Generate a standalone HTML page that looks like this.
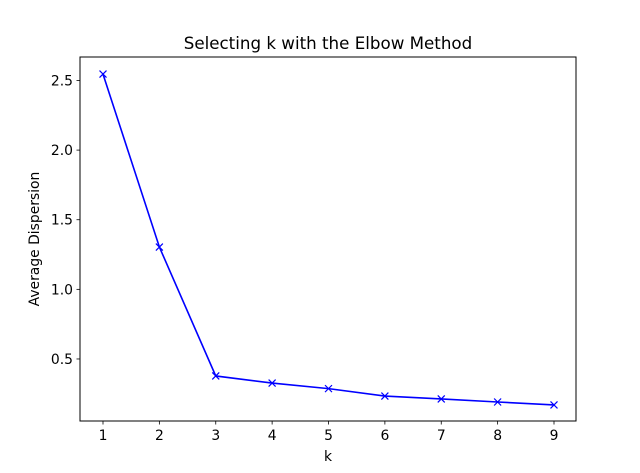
<!DOCTYPE html>
<html><head><meta charset="utf-8"><style>
html,body{margin:0;padding:0;background:#fff;}
svg{display:block;font-family:"DejaVu Sans","Liberation Sans",sans-serif;}
</style></head><body>
<svg id="chart" width="640" height="473" viewBox="0 0 640 473">
<rect x="0" y="0" width="640" height="473" fill="#fff"/>
<text x="328" y="49" text-anchor="middle" font-size="16.7">Selecting k with the Elbow Method</text>
<g id="xticks"></g>
<g id="yticks"></g>
<g id="series"></g>
<rect x="80" y="57" width="496" height="364" fill="none" stroke="#000" stroke-width="1"/>
<text x="328" y="461" text-anchor="middle" font-size="13.9">k</text>
<text transform="translate(39,239) rotate(-90)" text-anchor="middle" font-size="13.9">Average Dispersion</text>
</svg>
<script>
const kValues = [1,2,3,4,5,6,7,8,9];
const dispersion = [2.546,1.304,0.378,0.327,0.287,0.234,0.213,0.191,0.170];
const xTickLabels = ["1","2","3","4","5","6","7","8","9"];
const yTickValues = [0.5,1.0,1.5,2.0,2.5];
const NS="http://www.w3.org/2000/svg";
const xs = k => 103 + (k-1)*56.375;
const ys = v => 428.6 - v*139.25;
function mk(tag, attrs, parent){const e=document.createElementNS(NS,tag);for(const a in attrs)e.setAttribute(a,attrs[a]);parent.appendChild(e);return e;}
const gx=document.getElementById('xticks'), gy=document.getElementById('yticks'), gs=document.getElementById('series');
kValues.forEach((k,i)=>{
  const x=xs(k);
  const t=mk('line',{x1:x,x2:x,y1:421,y2:424.5,stroke:'#000','stroke-width':0.8},gx);
  
  
  const l=mk('text',{x:x,y:440,'text-anchor':'middle','font-size':13.9},gx);
  l.textContent=xTickLabels[i];
  
  
});
yTickValues.forEach(v=>{
  const y=ys(v);
  const t=mk('line',{x1:76.5,x2:80,y1:y,y2:y,stroke:'#000','stroke-width':0.8},gy);
  
  
  const l=mk('text',{x:73,y:y+5,'text-anchor':'end','font-size':13.9},gy);
  l.textContent=v.toFixed(1);
  
  
});
const pts=kValues.map((k,i)=>xs(k)+','+ys(dispersion[i])).join(' ');
const pl=mk('polyline',{points:pts,fill:'none',stroke:'#0000ff','stroke-width':1.6},gs);


kValues.forEach((k,i)=>{
  const x=xs(k), y=ys(dispersion[i]), s=3.5;
  const m=mk('path',{d:`M${x-s},${y-s}L${x+s},${y+s}M${x-s},${y+s}L${x+s},${y-s}`,stroke:'#0000ff','stroke-width':1.2,fill:'none'},gs);
  
  
});
</script>
</body></html>
